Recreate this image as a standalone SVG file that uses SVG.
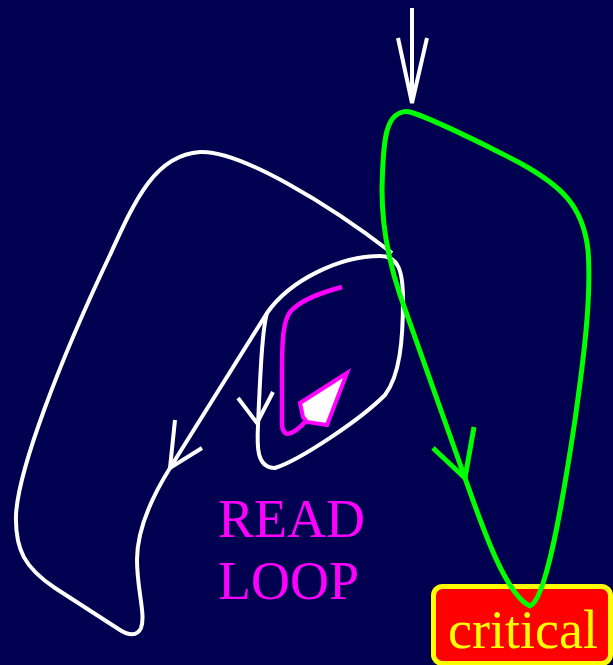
<svg xmlns="http://www.w3.org/2000/svg" width="613" height="665" viewBox="0 0 613 665">
<style>
.w{fill:none;stroke:#ffffff;stroke-width:4;stroke-linejoin:round;stroke-linecap:butt}
.g{fill:none;stroke:#00ff00;stroke-width:5;stroke-linejoin:round}
.m{fill:none;stroke:#ff00ff;stroke-width:4.5;stroke-linejoin:round}
.lbl{font-family:"Liberation Serif","Times New Roman",serif;font-size:54px}
</style>
<rect x="0" y="0" width="613" height="665" fill="#000050"/>
<g id="connectors">
<g id="entry-arrow">
<line class="w" x1="412" y1="8" x2="412" y2="100"/>
<polyline class="w" points="398,38 412,103 427,38" style="stroke-linejoin:miter"/>
</g>
<g id="outer-loop">
<path class="w" d="M 267,313 L 170,468 C 150,500 137,530 137,560 C 137,590 146,615 141,628 C 137,637 128,635 120,630 L 55,588 C 25,568 15,550 16,515 C 18,470 60,360 110,255 C 135,200 155,155 200,152 C 240,150 330,205 392,253"/>
<polyline class="w" points="175,420 170,468 202,448" style="stroke-linejoin:miter"/>
</g>
<g id="inner-loop">
<path class="w" d="M 267,313 C 262,330 260,380 258,425 C 257,445 256,468 275,468 C 300,460 360,420 385,395 C 400,375 403,340 403,300 C 403,270 398,256 380,256 C 340,256 290,280 267,313 Z"/>
<polyline class="w" points="238,398 257,423 273,392" style="stroke-linejoin:miter"/>
</g>
<g id="read-loop">
<path class="m" d="M 342,287 C 320,293 300,300 290,312 C 283,322 282,340 282,373 L 282,425 C 283,438 292,436 305,422"/>
<polygon points="347,373 300,403 303,417 307,422 327,425" fill="#ffffff" stroke="#ff00ff" stroke-width="4" stroke-linejoin="miter"/>
</g>
</g>
<g id="critical">
<rect x="433.5" y="586.5" width="177" height="77" rx="9" ry="9" fill="#ff0000" stroke="#ffff00" stroke-width="5"/>
</g>
<g id="critical-loop">
<path class="g" d="M 400,113 C 386,118 383,140 382,190 C 382,230 390,265 400,295 L 465,478 C 480,520 505,595 530,606 C 545,600 560,520 575,420 C 582,370 592,300 588,250 C 583,205 560,185 520,163 C 480,142 430,118 410,112 C 405,111 402,112 400,113 Z"/>
<polyline class="g" points="433,448 465,478 474,427" style="stroke-linejoin:miter"/>
</g>
<g id="labels">
<text class="lbl" x="448" y="648" fill="#ffff00">critical</text>
<text class="lbl" x="218" y="537" fill="#ff00ff">READ</text>
<text class="lbl" x="218" y="599" fill="#ff00ff">LOOP</text>
</g>
</svg>
